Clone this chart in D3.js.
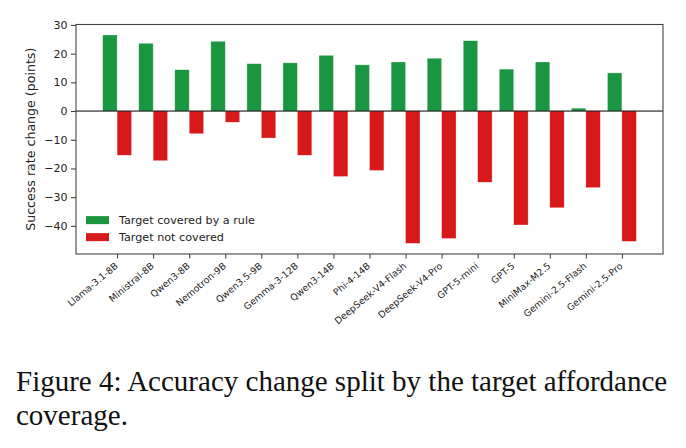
<!DOCTYPE html>
<html>
<head>
<meta charset="utf-8">
<script src="https://cdn.jsdelivr.net/npm/d3@7"></script>
<style>
  body { margin: 0; background: #fff; }
  svg { display: block; }
</style>
</head>
<body>
<figure id="split" style="margin:0"></figure>
<script>
// models on the x axis
var models = ["Llama-3.1-8B", "Ministral-8B", "Qwen3-8B", "Nemotron-9B", "Qwen3.5-9B", "Gemma-3-12B",
  "Qwen3-14B", "Phi-4-14B", "DeepSeek-V4-Flash", "DeepSeek-V4-Pro", "GPT-5-mini", "GPT-5",
  "MiniMax-M2.5", "Gemini-2.5-Flash", "Gemini-2.5-Pro"];

// change in success rate (points)
var covered    = [26.5, 23.6, 14.4, 24.3, 16.5, 16.8, 19.4, 16.1, 17.1, 18.4, 24.5, 14.6, 17.1, 1.0, 13.3];
var notCovered = [-15.4, -17.3, -7.9, -3.9, -9.4, -15.4, -22.8, -20.7, -46.1, -44.4, -24.8, -39.7, -33.7, -26.7, -45.4];

var yTicks = [30, 20, 10, 0, -10, -20, -30, -40];
var seriesNames = ["Target covered by a rule", "Target not covered"];
var seriesColors = ["#1a9641", "#d7191c"];

var W = 686, H = 448;
var margin = {top: 24.5, right: 23, bottom: 194, left: 76},
  width = 663 - margin.left,
  height = 254 - margin.top;

var svg = d3.select("figure#split")
  .append("svg")
  .attr("width", W)
  .attr("height", H);

var g = svg.append("g")
  .attr("transform", "translate(" + margin.left + "," + margin.top + ")");

var barW = 0.4;
var x = d3.scaleLinear()
  .domain([-1.14, models.length - 1 + 1.14])
  .range([0, width]);

var y = d3.scaleLinear()
  .domain([-49.8, 30.15])
  .range([height, 0]);

// bars: covered sits left of the tick, not covered to the right
g.selectAll(".cov")
  .data(covered)
  .enter()
  .append("rect")
  .attr("x", function(d, i) { return x(i - barW) })
  .attr("y", function(d) { return y(Math.max(0, d)) })
  .attr("width", x(barW) - x(0))
  .attr("height", function(d) { return Math.abs(y(d) - y(0)) })
  .style("fill", seriesColors[0])
  .style("stroke", "#ffffff")
  .style("stroke-opacity", 0.5)
  .style("stroke-width", 0.6);

g.selectAll(".notcov")
  .data(notCovered)
  .enter()
  .append("rect")
  .attr("x", function(d, i) { return x(i) })
  .attr("y", function(d) { return y(Math.max(0, d)) })
  .attr("width", x(barW) - x(0))
  .attr("height", function(d) { return Math.abs(y(d) - y(0)) })
  .style("fill", seriesColors[1])
  .style("stroke", "#ffffff")
  .style("stroke-opacity", 0.5)
  .style("stroke-width", 0.6);

// zero line
g.append("line")
  .attr("x1", 0).attr("x2", width)
  .attr("y1", y(0)).attr("y2", y(0))
  .style("stroke", "#000")
  .style("stroke-width", 1);

// y axis
var yAxis = g.append("g")
  .call(d3.axisLeft(y).tickValues(yTicks).tickSize(5).tickPadding(3.5)
    .tickFormat(function(d) { return d < 0 ? "\u2212" + Math.abs(d) : d }));
yAxis.select(".domain").remove();
yAxis.selectAll("text")
  .style("font-family", "DejaVu Sans")
  .style("font-size", "11px")
  .style("fill", "#222");
yAxis.selectAll("line").style("stroke", "#333");

// x axis
var xAxis = g.append("g")
  .attr("transform", "translate(0," + height + ")")
  .call(d3.axisBottom(x).tickValues(d3.range(models.length)).tickSize(4.5)
    .tickFormat(function(d) { return models[d] }));
xAxis.select(".domain").remove();
xAxis.selectAll("line").style("stroke", "#333");
xAxis.selectAll("text")
  .style("font-family", "DejaVu Sans")
  .style("font-size", "9.3px")
  .style("fill", "#222")
  .attr("text-anchor", "end")
  .attr("dy", null)
  .attr("y", 0)
  .attr("transform", "translate(1,13) rotate(-40)");

// frame
g.append("rect")
  .attr("width", width)
  .attr("height", height)
  .style("fill", "none")
  .style("stroke", "#444")
  .style("stroke-width", 1.1);

// y label
g.append("text")
  .attr("transform", "translate(" + (30 - margin.left) + "," + (height / 2) + ") rotate(-90)")
  .attr("text-anchor", "middle")
  .attr("dominant-baseline", "central")
  .style("font-family", "DejaVu Sans")
  .style("font-size", "12.6px")
  .style("fill", "#222")
  .text("Success rate change (points)");

// legend, no frame
var leg = g.append("g")
  .attr("transform", "translate(10," + (y(-38)) + ")");
seriesNames.forEach(function(name, i) {
  var row = leg.append("g").attr("transform", "translate(0," + (i * 17) + ")");
  row.append("rect")
    .attr("width", 23).attr("height", 8).attr("y", -4)
    .style("fill", seriesColors[i]);
  row.append("text")
    .attr("x", 33)
    .attr("dominant-baseline", "central")
    .style("font-family", "DejaVu Sans")
    .style("font-size", "11.2px")
    .style("fill", "#222")
    .text(name);
});

// caption
var cap = svg.append("text")
  .attr("x", 16)
  .attr("y", 391)
  .style("font-family", "Liberation Serif")
  .style("font-size", "29px")
  .style("fill", "#111");
cap.append("tspan").attr("x", 16).text("Figure 4: Accuracy change split by the target affordance");
cap.append("tspan").attr("x", 16).attr("dy", 34).text("coverage.");
</script>
</body>
</html>
